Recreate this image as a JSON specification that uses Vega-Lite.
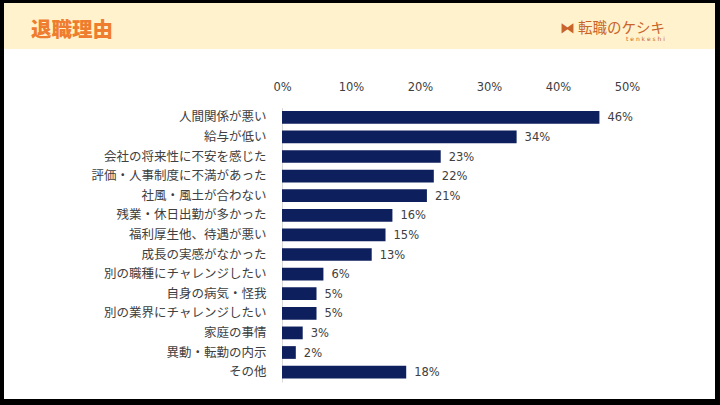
{
  "$schema": "https://vega.github.io/schema/vega-lite/v6.json",
  "background": "black",
  "padding": {"left": 4, "top": 3, "right": 5, "bottom": 6},
  "autosize": {"type": "pad"},
  "spacing": 0,
  "config": {"view": {"stroke": null, "fill": "white"}, "concat": {"spacing": 0}},
  "vconcat": [
    {
      "spacing": 0,
      "hconcat": [
        {
          "width": 356,
          "height": 46,
          "view": {"fill": "#FFF2CC", "stroke": null},
          "title": {"text": "退職理由", "anchor": "start", "orient": "top", "offset": -38, "dx": 27, "font": "Noto Sans CJK JP", "fontSize": 20.5, "fontWeight": 900, "color": "#EF7D2F"},
          "data": {"values": [{"t": ""}]},
          "mark": "text",
          "encoding": {"text": {"field": "t"}}
        },
        {
          "width": 355,
          "height": 46,
          "view": {"fill": "#FFF2CC", "stroke": null},
          "title": {"text": "⧓ 転職のケシキ", "subtitle": "t  e  n  k  e  s  h  i", "anchor": "end", "orient": "top", "offset": -40, "dx": -50, "font": "Noto Sans CJK JP", "fontSize": 14.5, "fontWeight": "normal", "color": "#C8642A", "subtitleFont": "DejaVu Sans", "subtitleFontSize": 6, "subtitleColor": "#C8642A", "subtitlePadding": 0},
          "data": {"values": [{"t": ""}]},
          "mark": "text",
          "encoding": {"text": {"field": "t"}}
        }
      ]
    },
    {
      "width": 711,
      "height": 350,
      "data": {
        "values": [
          {"reason": "人間関係が悪い", "value": 0.46},
          {"reason": "給与が低い", "value": 0.34},
          {"reason": "会社の将来性に不安を感じた", "value": 0.23},
          {"reason": "評価・人事制度に不満があった", "value": 0.22},
          {"reason": "社風・風土が合わない", "value": 0.21},
          {"reason": "残業・休日出勤が多かった", "value": 0.16},
          {"reason": "福利厚生他、待遇が悪い", "value": 0.15},
          {"reason": "成長の実感がなかった", "value": 0.13},
          {"reason": "別の職種にチャレンジしたい", "value": 0.06},
          {"reason": "自身の病気・怪我", "value": 0.05},
          {"reason": "別の業界にチャレンジしたい", "value": 0.05},
          {"reason": "家庭の事情", "value": 0.03},
          {"reason": "異動・転勤の内示", "value": 0.02},
          {"reason": "その他", "value": 0.18}
        ]
      },
      "encoding": {
        "y": {
          "field": "reason",
          "type": "nominal",
          "sort": null,
          "scale": {"range": [58.5, 332.9], "paddingInner": 0.35, "paddingOuter": 0.175},
          "axis": {"orient": "left", "offset": -278, "title": null, "ticks": false, "tickSize": 0, "labelPadding": 16, "domainColor": "#d9d9d9", "domainWidth": 1, "labelFont": "Noto Sans CJK JP", "labelFontSize": 12.5, "labelColor": "#404040", "labelLimit": 400}
        }
      },
      "layer": [
        {
          "mark": {"type": "bar", "color": "#0E1F5E"},
          "encoding": {
            "x": {
              "field": "value",
              "type": "quantitative",
              "scale": {"domain": [-0.4029, 0.6275], "nice": false, "zero": false},
              "axis": {"orient": "top", "offset": -43, "values": [0, 0.1, 0.2, 0.3, 0.4, 0.5], "format": ".0%", "domain": false, "ticks": false, "tickSize": 0, "grid": false, "labelPadding": 0, "labelFont": "DejaVu Sans", "labelFontSize": 11.5, "labelColor": "#404040", "title": null, "labelFlush": false}
            },
            "x2": {"datum": 0}
          }
        },
        {
          "mark": {"type": "text", "align": "left", "baseline": "middle", "dx": 8, "dy": 1, "font": "DejaVu Sans", "fontSize": 11.5, "color": "#404040"},
          "encoding": {
            "x": {"field": "value", "type": "quantitative"},
            "text": {"field": "value", "type": "quantitative", "format": ".0%"}
          }
        }
      ]
    }
  ]
}
